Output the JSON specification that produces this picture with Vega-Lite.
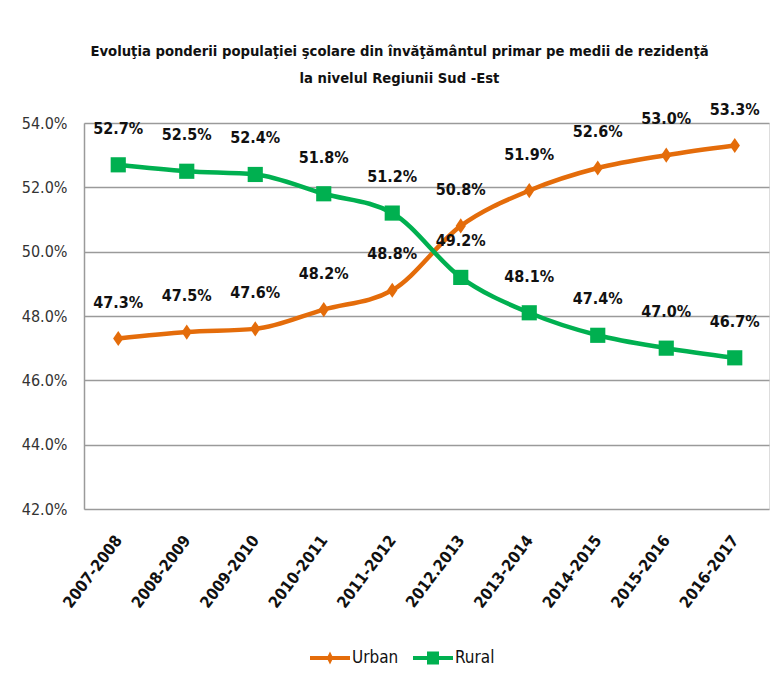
{
  "$schema": "https://vega.github.io/schema/vega-lite/v6.json",
  "width": 685,
  "height": 386,
  "autosize": "none",
  "padding": {"left": 84, "top": 123, "right": 4, "bottom": 178},
  "background": "white",
  "title": {
    "text": ["Evoluţia ponderii populaţiei şcolare din învăţământul primar pe medii de rezidenţă", "la nivelul Regiunii Sud -Est"],
    "font": "Liberation Sans Narrow, DejaVu Sans Condensed, Liberation Sans",
    "fontSize": 14.7,
    "fontWeight": "bold",
    "color": "#111",
    "lineHeight": 27,
    "anchor": "middle",
    "dx": -27,
    "offset": 16
  },
  "data": {
    "values": [
      {"year": "2007-2008", "series": "Urban", "value": 0.473},
      {"year": "2008-2009", "series": "Urban", "value": 0.475},
      {"year": "2009-2010", "series": "Urban", "value": 0.476},
      {"year": "2010-2011", "series": "Urban", "value": 0.482},
      {"year": "2011-2012", "series": "Urban", "value": 0.488},
      {"year": "2012.2013", "series": "Urban", "value": 0.508},
      {"year": "2013-2014", "series": "Urban", "value": 0.519},
      {"year": "2014-2015", "series": "Urban", "value": 0.526},
      {"year": "2015-2016", "series": "Urban", "value": 0.530},
      {"year": "2016-2017", "series": "Urban", "value": 0.533},
      {"year": "2007-2008", "series": "Rural", "value": 0.527},
      {"year": "2008-2009", "series": "Rural", "value": 0.525},
      {"year": "2009-2010", "series": "Rural", "value": 0.524},
      {"year": "2010-2011", "series": "Rural", "value": 0.518},
      {"year": "2011-2012", "series": "Rural", "value": 0.512},
      {"year": "2012.2013", "series": "Rural", "value": 0.492},
      {"year": "2013-2014", "series": "Rural", "value": 0.481},
      {"year": "2014-2015", "series": "Rural", "value": 0.474},
      {"year": "2015-2016", "series": "Rural", "value": 0.470},
      {"year": "2016-2017", "series": "Rural", "value": 0.467}
    ]
  },
  "encoding": {
    "x": {
      "field": "year",
      "type": "ordinal",
      "sort": null,
      "scale": {"type": "point", "padding": 0.5},
      "axis": {
        "title": null,
        "labelAngle": -53,
        "labelAlign": "right",
        "labelBaseline": "middle",
        "labelFont": "Liberation Sans Narrow, DejaVu Sans Condensed, Liberation Sans",
        "labelFontSize": 16,
        "labelFontWeight": "bold",
        "labelColor": "#111",
        "labelPadding": 28,
        "ticks": false,
        "domain": false,
        "grid": false
      }
    },
    "y": {
      "field": "value",
      "type": "quantitative",
      "scale": {"domain": [0.42, 0.54], "nice": false, "zero": false},
      "axis": {
        "title": null,
        "format": ".1%",
        "values": [0.42, 0.44, 0.46, 0.48, 0.50, 0.52, 0.54],
        "labelFont": "Liberation Sans Narrow, DejaVu Sans Condensed, Liberation Sans",
        "labelFontSize": 16,
        "labelColor": "#333",
        "labelPadding": 17,
        "ticks": false,
        "domain": true,
        "domainColor": "#9a9a9a",
        "domainWidth": 1.5,
        "grid": true,
        "gridColor": "#9a9a9a",
        "gridWidth": 1.5
      }
    },
    "color": {
      "field": "series",
      "type": "nominal",
      "scale": {"domain": ["Urban", "Rural"], "range": ["#E46C0A", "#00B050"]},
      "legend": {
        "title": null,
        "orient": "none",
        "legendX": 226,
        "legendY": 515,
        "direction": "horizontal",
        "labelFont": "Liberation Sans Narrow, DejaVu Sans Condensed, Liberation Sans",
        "labelFontSize": 17,
        "labelColor": "#111",
        "symbolSize": 1600,
        "symbolStrokeWidth": 0,
        "labelOffset": 2,
        "columnPadding": 14,
        "encode": {
          "symbols": {
            "update": {
              "shape": {"signal": "datum.value === 'Urban' ? 'M-1,-0.1L1,-0.1L1,0.1L-1,0.1Z M0,-0.32L0.16,0L0,0.32L-0.16,0Z' : 'M-1,-0.1L1,-0.1L1,0.1L-1,0.1Z M-0.3,-0.32L0.3,-0.32L0.3,0.32L-0.3,0.32Z'"},
              "fill": {"signal": "datum.value === 'Urban' ? '#E46C0A' : '#00B050'"},
              "fillOpacity": {"value": 1},
              "strokeWidth": {"value": 0}
            }
          }
        }
      }
    }
  },
  "layer": [
    {
      "mark": {"type": "line", "interpolate": "monotone", "strokeWidth": 4.5}
    },
    {
      "transform": [{"filter": "datum.series === 'Urban'"}],
      "mark": {"type": "point", "filled": true, "opacity": 1, "size": 230, "shape": "M0,-1L0.68,0L0,1L-0.68,0Z"}
    },
    {
      "transform": [{"filter": "datum.series === 'Rural'"}],
      "mark": {"type": "point", "filled": true, "opacity": 1, "size": 230, "shape": "square"}
    },
    {
      "mark": {
        "type": "text",
        "dy": -36,
        "font": "Liberation Sans Narrow, DejaVu Sans Condensed, Liberation Sans",
        "fontSize": 16,
        "fontWeight": "bold",
        "color": "#111"
      },
      "encoding": {
        "text": {"field": "value", "type": "quantitative", "format": ".1%"},
        "color": {"value": "#111"}
      }
    }
  ]
}
